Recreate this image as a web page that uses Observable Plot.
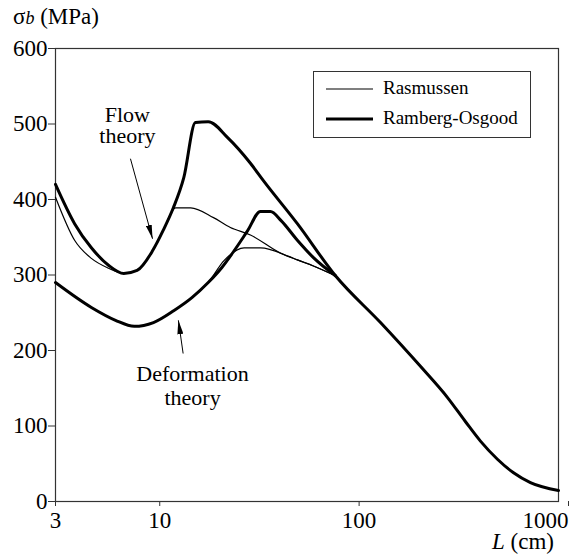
<!DOCTYPE html>
<html>
<head>
<meta charset="utf-8">
<script src="https://cdn.jsdelivr.net/npm/d3@7"></script>
<script src="https://cdn.jsdelivr.net/npm/@observablehq/plot@0.6"></script>
<style>
  body { margin: 0; background: white; }
  #wrap { position: relative; width: 570px; height: 556px; color: black; }
  #wrap, #wrap *, svg text { font-family: "Liberation Serif", "Times New Roman", Times, Tinos, "DejaVu Serif", "Noto Serif", serif !important; }
  #ylab { position: absolute; left: 13px; top: 4px; font-size: 23px; white-space: nowrap; line-height: 1.15; }
  #xlab { position: absolute; left: 492px; top: 529px; font-size: 23px; white-space: nowrap; line-height: 1.15; }
  #legend { position: absolute; left: 313px; top: 71px; width: 218px; height: 67px; border: 1px solid #333; background: white; box-sizing: border-box; }
  .row { position: absolute; left: 0; font-size: 19px; white-space: nowrap; line-height: 22px; }
  .row svg { position: absolute; left: 12px; top: 0; }
  .row span { position: absolute; left: 69px; top: 0; }
</style>
</head>
<body>
<div id="wrap">
  <div id="chart"></div>
  <div id="ylab">σ<i style="font-size:18px">b</i> (MPa)</div>
  <div id="xlab"><i>L</i> (cm)</div>
  <div id="legend">
    <div class="row" style="top:5px"><svg width="48" height="22"><line x1="0" x2="47" y1="12" y2="12" stroke="black" stroke-width="1.2"/></svg><span>Rasmussen</span></div>
    <div class="row" style="top:35px"><svg width="48" height="22"><line x1="0" x2="47" y1="12" y2="12" stroke="black" stroke-width="3"/></svg><span>Ramberg-Osgood</span></div>
  </div>
</div>
<script>
// Tick values
const xTicks = [3, 10, 100];
const xTickEnd = [1000];
const yTicks = [0, 100, 200, 300, 400, 500, 600];

// Flow theory, Ramberg-Osgood (thick), incl. common tail
const flowRO_L = [3, 3.74, 4.54, 5.53, 6.6, 7.7, 9.2, 10.4, 11.7, 13.2, 15.1, 17.5, 21.9, 28.5, 33.1, 49, 76.1, 128, 203, 277, 341, 406, 494, 595, 723, 1000];
const flowRO_S = [420, 368, 336, 313, 302, 306, 332, 359, 389, 429, 502, 503, 482, 448, 425, 368, 299, 237, 179, 138, 106, 80, 56, 38, 25, 14.6];

// Flow theory, Rasmussen (thin)
const flowRa_L = [3, 3.74, 4.54, 5.53, 6.6, 7.7, 9.2, 10.4, 12.0, 14.3, 18.6, 22.6, 28.5, 40.3, 49, 59, 76.1];
const flowRa_S = [403, 346, 322, 309, 302, 306, 332, 359, 389, 389, 376, 363, 353, 329, 320, 312, 299];

// Deformation theory, Ramberg-Osgood (thick)
const defRO_L = [3, 4.54, 6, 7.45, 9.3, 11.8, 14.5, 17.5, 20.5, 23.6, 27.5, 32.0, 35.9, 40.6, 49, 59, 76.1];
const defRO_S = [290, 257, 240, 232, 237, 253, 270, 290, 310, 332, 358, 384, 384, 372, 346, 323, 299];

// Deformation theory, Rasmussen (thin)
const defRa_L = [3, 4.54, 6, 7.45, 9.3, 11.8, 14.5, 17.5, 21.0, 26.5, 32.0, 44, 49, 59, 76.1];
const defRa_S = [290, 257, 240, 232, 237, 253, 270, 290, 319, 336, 336, 325, 320, 312, 299];

// Annotations (data coordinates)
const labels = [
  {L: 6.88, S: 497.5, text: "Flow\ntheory"},
  {L: 14.6, S: 154, text: "Deformation\ntheory"}
];
const arrows = [
  {L1: 7.13, S1: 454, L2: 9.2, S2: 348},
  {L1: 13.1, S1: 196, L2: 12.4, S2: 240}
];

const toRows = (L, S) => L.map((l, i) => ({L: l, S: S[i]}));
const FONT = "'Liberation Serif', 'Times New Roman', Times, Tinos, 'DejaVu Serif', 'Noto Serif', serif";

const chart = Plot.plot({
  width: 570,
  height: 556,
  marginLeft: 55,
  marginRight: 12,
  marginTop: 48,
  marginBottom: 55,
  x: {type: "log", domain: [3, 1000]},
  y: {domain: [0, 600]},
  style: {fontFamily: FONT, fontSize: "23px", color: "black", background: "white"},
  marks: [
    Plot.frame({stroke: "#333", strokeWidth: 1.2}),
    Plot.axisY({ticks: yTicks, tickSize: 7, tickPadding: 1, label: null, stroke: "#333", fontSize: 23}),
    Plot.axisX({ticks: xTicks, tickSize: 5, tickPadding: 5, label: null, tickFormat: d => String(d), stroke: "#333", fontSize: 23}),
    Plot.axisX({ticks: xTickEnd, tickSize: 5, tickPadding: 5, label: null, tickFormat: d => String(d), textAnchor: "end", dx: 10, stroke: "#333", fontSize: 23}),
    Plot.line(toRows(flowRa_L, flowRa_S), {x: "L", y: "S", stroke: "black", strokeWidth: 1.2, curve: "monotone-x"}),
    Plot.line(toRows(defRa_L, defRa_S), {x: "L", y: "S", stroke: "black", strokeWidth: 1.2, curve: "monotone-x"}),
    Plot.line(toRows(flowRO_L, flowRO_S), {x: "L", y: "S", stroke: "black", strokeWidth: 3, curve: "monotone-x"}),
    Plot.line(toRows(defRO_L, defRO_S), {x: "L", y: "S", stroke: "black", strokeWidth: 3, curve: "monotone-x"}),
    Plot.link(arrows, {x1: "L1", y1: "S1", x2: "L2", y2: "S2", stroke: "black", strokeWidth: 1}),
    Plot.text([labels[0]], {x: "L", y: "S", text: "text", fontSize: 22, lineHeight: 0.95, fill: "black"}),
    Plot.text([labels[1]], {x: "L", y: "S", text: "text", fontSize: 22, lineHeight: 1.08, fill: "black"})
  ]
});
document.getElementById("chart").appendChild(chart);

// filled arrowheads on the annotation links
const svg = d3.select(chart);
svg.append("defs").append("marker")
  .attr("id", "ahead").attr("viewBox", "0 0 14 6").attr("refX", 14).attr("refY", 3)
  .attr("markerWidth", 14).attr("markerHeight", 6).attr("markerUnits", "userSpaceOnUse")
  .attr("orient", "auto")
  .append("path").attr("d", "M0,0 L14,3 L0,6 Z").attr("fill", "black");
svg.selectAll("g[aria-label='link'] path").attr("marker-end", "url(#ahead)");
</script>
</body>
</html>
